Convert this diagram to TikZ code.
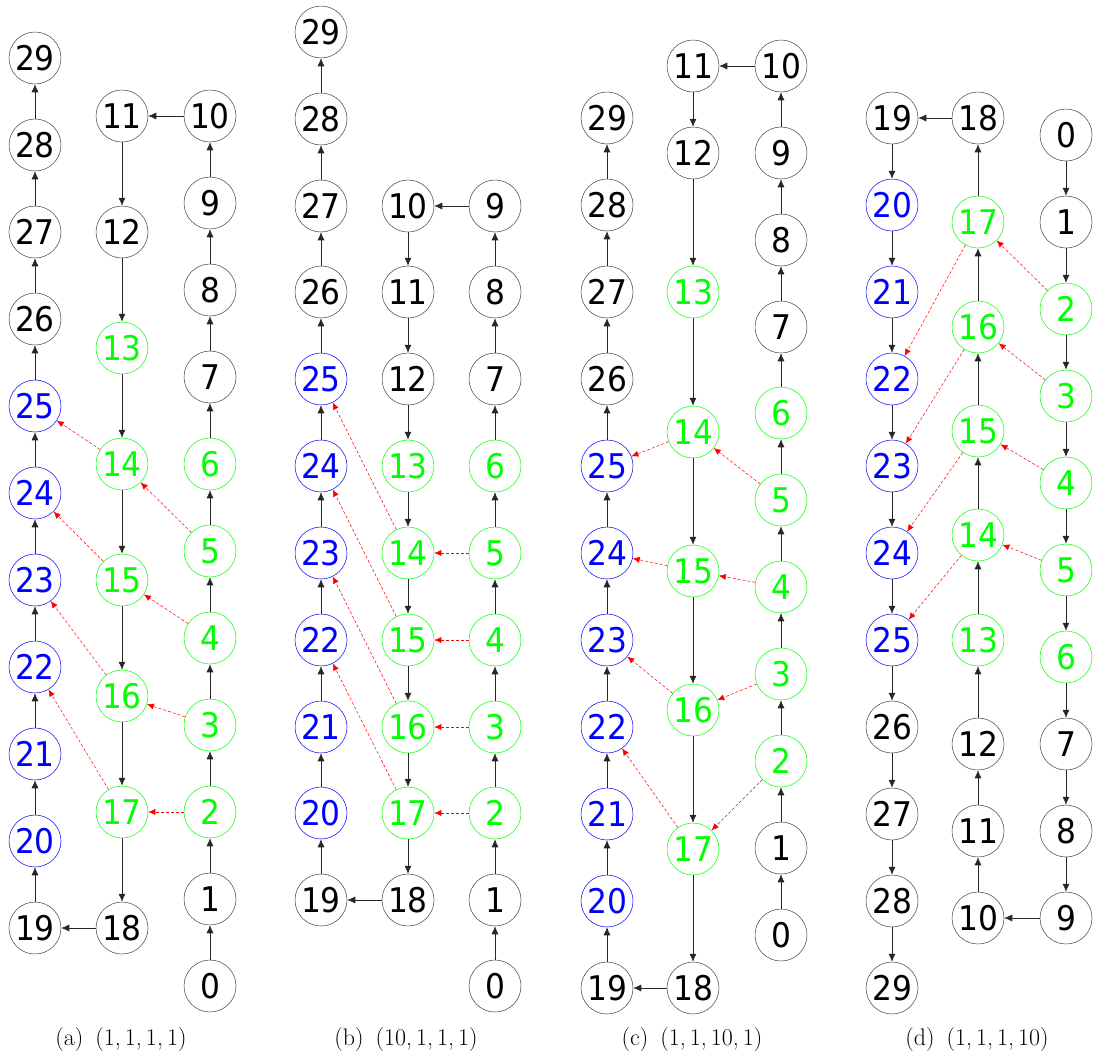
\documentclass[tikz,border=0pt]{standalone}
\usepackage{fontspec}
\usetikzlibrary{arrows.meta}
\newfontfamily\numfont[FakeStretch=0.92]{DejaVu Sans}
\definecolor{gn}{RGB}{0,255,0}
\definecolor{bl}{RGB}{0,0,255}
\tikzset{
  nd/.style={circle, minimum size=52pt, inner sep=0pt, line width=0.5pt,
    font=\numfont\fontsize{34}{34}\selectfont},
  blk/.style={nd, draw=black!75, text=black},
  grn/.style={nd, draw=gn, text=gn},
  blu/.style={nd, draw=bl, text=bl},
  edge/.style={draw=black!85, line width=0.6pt, -{Latex[length=8pt,width=7pt]}},
  redge/.style={draw=red, line width=0.5pt, dash pattern=on 3pt off 2pt, -{Latex[length=7pt,width=6pt]}},
  captext/.style={anchor=base, font=\fontsize{24}{28}\selectfont}
}
\begin{document}
\begin{tikzpicture}[x=1pt, y=-1pt]
\useasboundingbox (0,0) rectangle (1094,1058);
% ---------- panel (a)
\foreach \n/\x/\y/\s in {0/210/986/blk,1/210/899/blk,2/210/812/grn,3/210/725/grn,4/210/638/grn,5/210/551/grn,6/210/464/grn,7/210/377/blk,8/210/290/blk,9/210/203/blk,10/210/116/blk,
  11/122/116/blk,12/122/232/blk,13/122/348/grn,14/122/464/grn,15/122/580/grn,16/122/696/grn,17/122/812/grn,18/122/928/blk,
  19/35/928/blk,20/35/841/blu,21/35/754/blu,22/35/667/blu,23/35/580/blu,24/35/493/blu,25/35/406/blu,26/35/319/blk,27/35/232/blk,28/35/145/blk,29/35/58/blk}
  \node[\s] (a\n) at (\x,\y) {\n};
% ---------- panel (b)
\foreach \n/\x/\y/\s in {0/495/986/blk,1/495/900/blk,2/495/813/grn,3/495/727/grn,4/495/640/grn,5/495/553/grn,6/495/466/grn,7/495/379/blk,8/495/292/blk,9/495/206/blk,
  10/408/206/blk,11/408/292/blk,12/408/379/blk,13/408/466/grn,14/408/553/grn,15/408/640/grn,16/408/727/grn,17/408/813/grn,18/408/900/blk,
  19/321/900/blk,20/321/813/blu,21/321/727/blu,22/321/640/blu,23/321/553/blu,24/321/466/blu,25/321/379/blu,26/321/292/blk,27/321/206/blk,28/321/119/blk,29/321/32/blk}
  \node[\s] (b\n) at (\x,\y) {\n};
% ---------- panel (c)
\foreach \n/\x/\y/\s in {0/781/935/blk,1/781/848/blk,2/781/761/grn,3/781/674/grn,4/781/587/grn,5/781/500/grn,6/781/413/grn,7/781/327/blk,8/781/240/blk,9/781/153/blk,10/781/66/blk,
  11/693/66/blk,12/693/153/blk,13/693/292/grn,14/693/432/grn,15/693/571/grn,16/693/710/grn,17/693/849/grn,18/693/988/blk,
  19/607/988/blk,20/607/901/blu,21/607/814/blu,22/607/727/blu,23/607/640/blu,24/607/553/blu,25/607/466/blu,26/607/379/blk,27/607/292/blk,28/607/205/blk,29/607/118/blk}
  \node[\s] (c\n) at (\x,\y) {\n};
% ---------- panel (d)
\foreach \n/\x/\y/\s in {0/1066/135/blk,1/1066/222/blk,2/1066/309/grn,3/1066/396/grn,4/1066/483/grn,5/1066/570/grn,6/1066/657/grn,7/1066/744/blk,8/1066/831/blk,9/1066/918/blk,
  10/978/918/blk,11/978/831/blk,12/978/744/blk,13/978/640/grn,14/978/535/grn,15/978/431/grn,16/978/327/grn,17/978/222/grn,18/978/118/blk,
  19/892/118/blk,20/892/205/blu,21/892/292/blu,22/892/379/blu,23/892/466/blu,24/892/553/blu,25/892/640/blu,26/892/727/blk,27/892/814/blk,28/892/901/blk,29/892/988/blk}
  \node[\s] (d\n) at (\x,\y) {\n};
% ---------- chains and red links
\foreach \p in {a,b,c,d}{
  \foreach \i [evaluate=\i as \j using int(\i+1)] in {0,...,28}
    \draw[edge] (\p\i) -- (\p\j);
  \foreach \u/\v in {2/17,3/16,4/15,5/14,14/25,15/24,16/23,17/22}
    \draw[redge] (\p\u) -- (\p\v);
}
% ---------- captions
\node[captext] (capa) at (121,1045) {(a)\hspace{0.5em}(1,\,1,\,1,\,1)};
\node[captext] (capb) at (406,1045) {(b)\hspace{0.5em}(10,\,1,\,1,\,1)};
\node[captext] (capc) at (692,1045) {(c)\hspace{0.5em}(1,\,1,\,10,\,1)};
\node[captext] (capd) at (977,1045) {(d)\hspace{0.5em}(1,\,1,\,1,\,10)};
\end{tikzpicture}
\end{document}
